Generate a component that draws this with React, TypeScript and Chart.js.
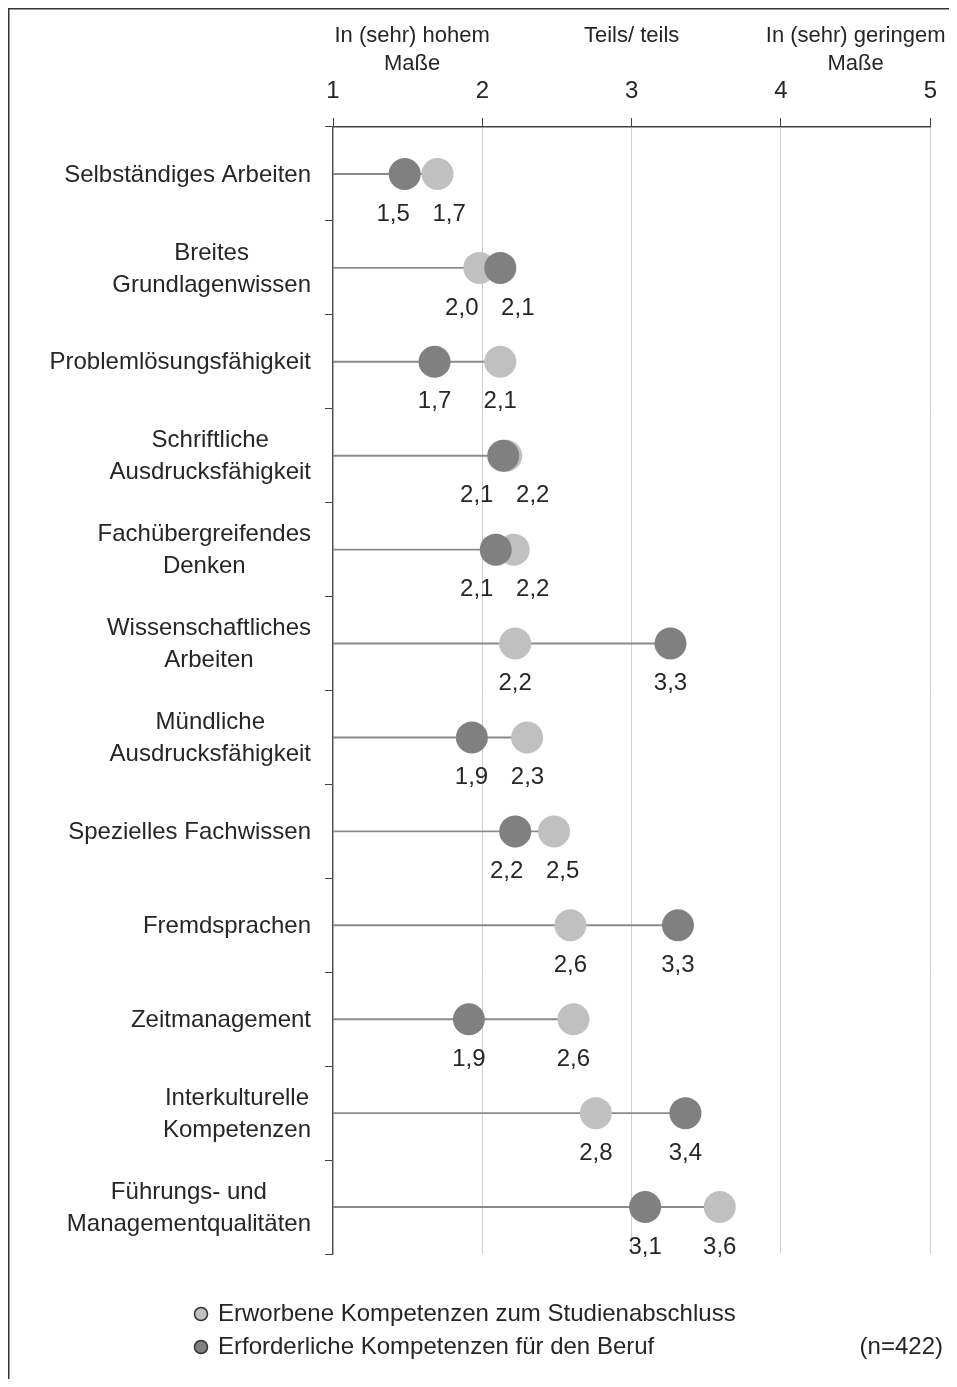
import React, { useEffect, useRef } from "react";
import { Chart, registerables } from "chart.js";

Chart.register(...registerables);

const categories: (string | string[])[] = [
  "Selbständiges Arbeiten",
  ["Breites", "Grundlagenwissen"],
  "Problemlösungsfähigkeit",
  ["Schriftliche", "Ausdrucksfähigkeit"],
  ["Fachübergreifendes", "Denken"],
  ["Wissenschaftliches", "Arbeiten"],
  ["Mündliche", "Ausdrucksfähigkeit"],
  "Spezielles Fachwissen",
  "Fremdsprachen",
  "Zeitmanagement",
  ["Interkulturelle", "Kompetenzen"],
  ["Führungs- und", "Managementqualitäten"],
];

// Erworbene Kompetenzen zum Studienabschluss (light)
const erworben = [1.7, 1.98, 2.12, 2.16, 2.21, 2.22, 2.3, 2.48, 2.59, 2.61, 2.76, 3.59];
// Erforderliche Kompetenzen für den Beruf (dark)
const erforderlich = [1.48, 2.12, 1.68, 2.14, 2.09, 3.26, 1.93, 2.22, 3.31, 1.91, 3.36, 3.09];

const seriesLabels = [
  "Erworbene Kompetenzen zum Studienabschluss",
  "Erforderliche Kompetenzen für den Beruf",
];

const xTicks = [1, 2, 3, 4, 5];
const headerValues = [1.53, 3, 4.5];
const headerTexts = [["In (sehr) hohem", "Maße"], ["Teils/ teils"], ["In (sehr) geringem", "Maße"]];
const sampleNote = "(n=422)";

const FONT = "'Liberation Sans', Arial, sans-serif";
const TEXT = "#262626";
const LIGHT = "#c0c0c0";
const DARK = "#808080";

const fmt = (v: number) => v.toFixed(1).replace(".", ",");

const drawPlugin = {
  id: "customDraw",
  afterDraw(chart: any) {
    const ctx = chart.ctx;
    const xs = chart.scales.x;
    const ys = chart.scales.y;
    ctx.save();
    ctx.fillStyle = TEXT;

    // frame
    ctx.strokeStyle = "#333";
    ctx.lineWidth = 1.5;
    ctx.beginPath();
    ctx.moveTo(0.75, chart.height);
    ctx.lineTo(0.75, 0.75);
    ctx.lineTo(chart.width, 0.75);
    ctx.stroke();

    // header texts above axis
    ctx.font = `22px ${FONT}`;
    ctx.textAlign = "center";
    ctx.textBaseline = "middle";
    headerValues.forEach((v, i) => {
      const px = xs.getPixelForValue(v);
      headerTexts[i].forEach((t, j) => ctx.fillText(t, px, 28 + j * 28));
    });

    // category labels (block right aligned, lines centered)
    ctx.font = `24px ${FONT}`;
    categories.forEach((c, i) => {
      const lines = Array.isArray(c) ? c : [c];
      const w = Math.max(...lines.map((l) => ctx.measureText(l).width));
      const cx = ys.left + ys.width - 22 - w / 2;
      const cy = ys.getPixelForValue(i) + 1;
      lines.forEach((l, j) => {
        ctx.fillText(l, cx, cy + (j - (lines.length - 1) / 2) * 32);
      });
    });

    // value labels under points
    const metaDark = chart.getDatasetMeta(0);
    const metaLight = chart.getDatasetMeta(1);
    const minSep = 56;
    categories.forEach((_, i) => {
      const pd = metaDark.data[i];
      const pl = metaLight.data[i];
      const items = [
        { x: pd.x, t: fmt(erforderlich[i]) },
        { x: pl.x, t: fmt(erworben[i]) },
      ].sort((a, b) => a.x - b.x);
      let x0 = items[0].x;
      let x1 = items[1].x;
      if (x1 - x0 < minSep) {
        const mid = (x0 + x1) / 2;
        x0 = mid - minSep / 2;
        x1 = mid + minSep / 2;
      }
      const y = pd.y + 40;
      ctx.fillText(items[0].t, x0, y);
      ctx.fillText(items[1].t, x1, y);
    });

    // legend
    const legendColors = [LIGHT, DARK];
    const legendY = [1306, 1339];
    ctx.textAlign = "left";
    seriesLabels.forEach((l, i) => {
      ctx.beginPath();
      ctx.arc(193, legendY[i], 6.5, 0, Math.PI * 2);
      ctx.fillStyle = legendColors[i];
      ctx.fill();
      ctx.strokeStyle = "#333";
      ctx.lineWidth = 1.5;
      ctx.stroke();
      ctx.fillStyle = TEXT;
      ctx.fillText(l, 210, legendY[i]);
    });
    ctx.textAlign = "right";
    ctx.fillText(sampleNote, 935, legendY[1]);
    ctx.restore();
  },
};

export default function App() {
  const ref = useRef<HTMLCanvasElement | null>(null);
  useEffect(() => {
    if (!ref.current) return;
    const ranges = categories.map((_, i) => [1, Math.max(erworben[i], erforderlich[i])]);
    const chart = new Chart(ref.current, {
      type: "bar",
      data: {
        labels: categories as any,
        datasets: [
          {
            type: "line",
            label: seriesLabels[1],
            data: erforderlich,
            indexAxis: "y",
            showLine: false,
            pointRadius: 16,
            pointHoverRadius: 16,
            pointBorderWidth: 0,
            backgroundColor: DARK,
            borderColor: DARK,
            order: 0,
          } as any,
          {
            type: "line",
            label: seriesLabels[0],
            data: erworben,
            indexAxis: "y",
            showLine: false,
            pointRadius: 16,
            pointHoverRadius: 16,
            pointBorderWidth: 0,
            backgroundColor: LIGHT,
            borderColor: LIGHT,
            order: 1,
          } as any,
          {
            type: "bar",
            label: "range",
            data: ranges as any,
            backgroundColor: "#8a8a8a",
            barThickness: 1.2,
            order: 2,
          } as any,
        ],
      },
      options: {
        indexAxis: "y",
        responsive: false,
        animation: false,
        events: [],
        layout: { padding: { top: 0, left: 0, right: 15, bottom: 125 } },
        plugins: { legend: { display: false }, tooltip: { enabled: false } },
        scales: {
          x: {
            type: "linear",
            position: "top",
            min: 1,
            max: 5,
            afterBuildTicks: (s: any) => {
              s.ticks = xTicks.map((v) => ({ value: v }));
            },
            afterFit: (s: any) => {
              s.height = 119;
            },
            ticks: {
              font: { size: 24, family: FONT },
              color: TEXT,
              padding: 12,
            },
            grid: {
              color: "#cfcfcf",
              tickColor: "#404040",
              tickLength: 9,
              lineWidth: 1,
            },
            border: { color: "#404040", width: 1.5 },
          },
          y: {
            type: "category",
            offset: true,
            afterFit: (s: any) => {
              s.width = 325;
            },
            ticks: { color: "transparent", font: { size: 24, family: FONT } },
            grid: {
              offset: true,
              drawOnChartArea: false,
              tickLength: 8,
              tickColor: "#404040",
            },
            border: { color: "#505050", width: 1.3 },
          },
        },
      } as any,
      plugins: [drawPlugin],
    });
    return () => chart.destroy();
  }, []);
  return <canvas ref={ref} width={941} height={1371} style={{ display: "block" }} />;
}
